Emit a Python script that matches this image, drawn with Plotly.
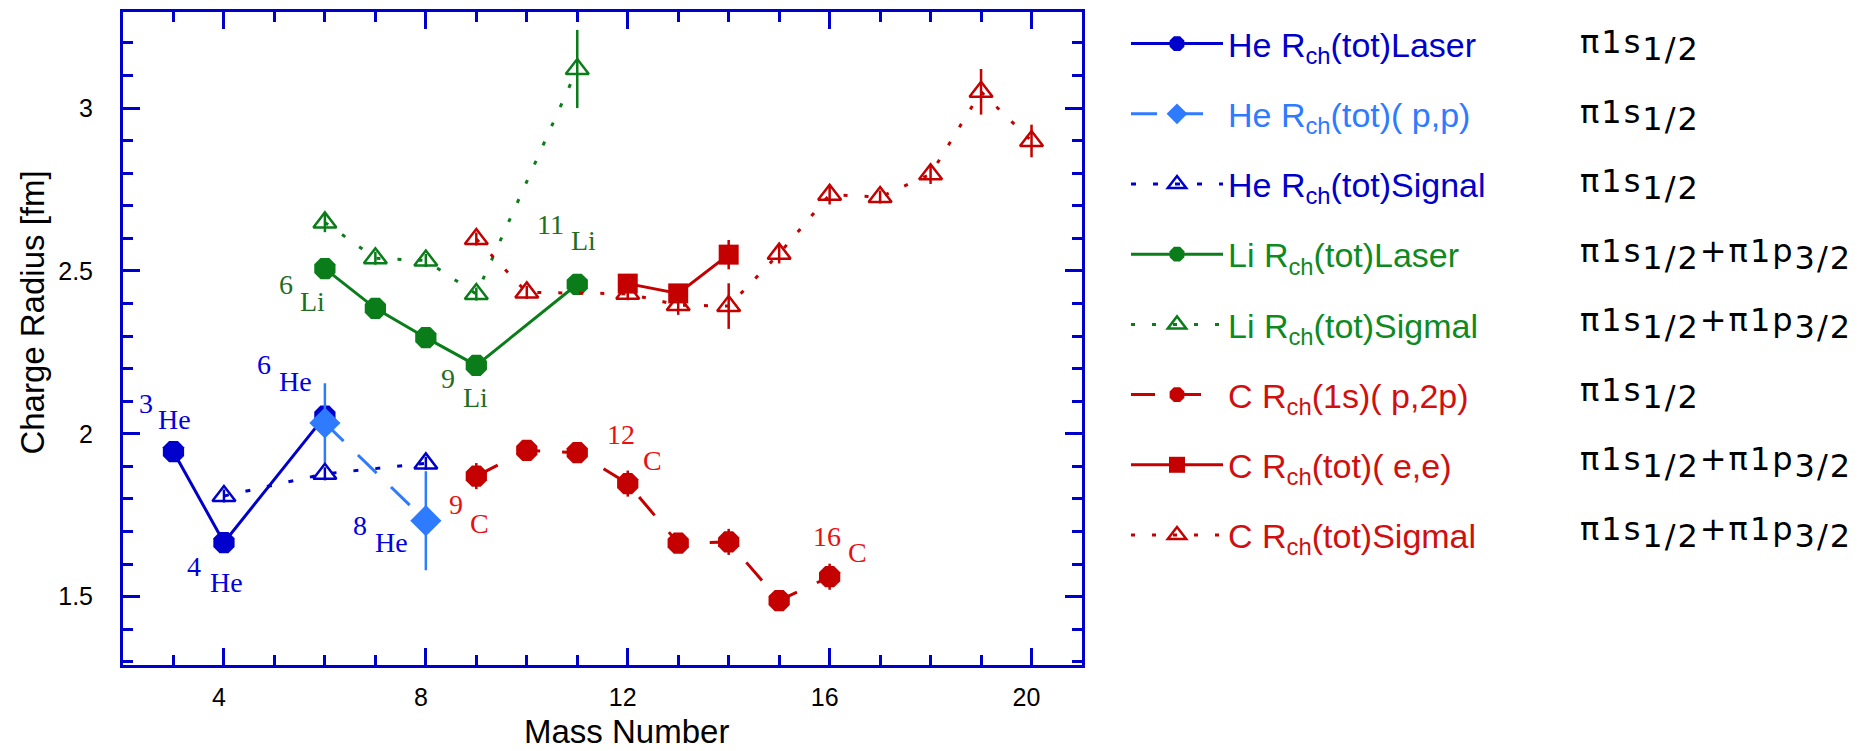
import plotly.graph_objects as go

# ---- data: charge radii (fm) vs mass number ----
he_laser_A = [3, 4, 6]
he_laser_R = [1.945, 1.666, 2.054]

he_pp_A = [6, 8]
he_pp_R = [2.033, 1.733]
he_pp_err = [0.122, 0.152]

he_sig_A = [4, 6, 8]
he_sig_R = [1.809, 1.877, 1.909]
he_sig_err = [0.02, 0.02, 0.02]

li_laser_A = [6, 7, 8, 9, 11]
li_laser_R = [2.507, 2.385, 2.295, 2.210, 2.459]

li_sig_A = [6, 7, 8, 9, 11]
li_sig_R = [2.649, 2.539, 2.532, 2.429, 3.12]
li_sig_err = [0.03, 0.02, 0.02, 0.02, 0.12]

c_p2p_A = [9, 10, 11, 12, 13, 14, 15, 16]
c_p2p_R = [1.870, 1.949, 1.942, 1.847, 1.664, 1.668, 1.488, 1.561]
c_p2p_err = [0.04, 0, 0, 0.04, 0, 0.04, 0, 0.04]

c_ee_A = [12, 13, 14]
c_ee_R = [2.461, 2.431, 2.55]
c_ee_err = [0, 0, 0.045]

c_sig_A = [9, 10, 12, 13, 14, 15, 16, 17, 18, 19, 20]
c_sig_R = [2.598, 2.434, 2.43, 2.395, 2.392, 2.553, 2.734, 2.727, 2.797, 3.050, 2.899]
c_sig_err = [0.02, 0.02, 0.02, 0.03, 0.07, 0.03, 0.03, 0.02, 0.03, 0.07, 0.05]

# orbital configuration shown next to each legend entry
configs = [
    "π1s<sub>{1/2}</sub>",
    "π1s<sub>{1/2}</sub>",
    "π1s<sub>{1/2}</sub>",
    "π1s<sub>{1/2}</sub>+π1p<sub>{3/2}</sub>",
    "π1s<sub>{1/2}</sub>+π1p<sub>{3/2}</sub>",
    "π1s<sub>{1/2}</sub>",
    "π1s<sub>{1/2}</sub>+π1p<sub>{3/2}</sub>",
    "π1s<sub>{1/2}</sub>+π1p<sub>{3/2}</sub>",
]

# isotope labels: (mass, element, colour key)
iso_labels = [
    ("3", "He", "he"), ("4", "He", "he"), ("6", "He", "he"), ("8", "He", "he"),
    ("6", "Li", "li"), ("9", "Li", "li"), ("11", "Li", "li"),
    ("9", "C", "c"), ("12", "C", "c"), ("16", "C", "c"),
]
# label placement in data units: (number x, number y, element x, element y)
iso_pos = [
    (2.456, 2.094, 3.030, 2.045),
    (3.407, 1.592, 4.041, 1.543),
    (4.784, 2.212, 5.408, 2.160),
    (6.696, 1.718, 7.310, 1.666),
    (5.230, 2.458, 5.745, 2.406),
    (8.440, 2.170, 8.975, 2.112),
    (10.461, 2.644, 11.115, 2.592),
    (8.598, 1.782, 9.054, 1.724),
    (11.867, 1.999, 12.481, 1.919),
    (15.949, 1.684, 16.543, 1.635),
]

BLUE = "#0000CC"
LIGHT = "#2F7BFF"
GREEN = "#0A7D1A"
RED = "#C40000"
label_colors = {"he": "#0000E0", "li": "#1F6E1F", "c": "#E81010"}
legend_colors = {"he": "#0000CC", "hel": "#2F7BFF", "li": "#0F8A1F", "c": "#D01010"}

SANS = "Liberation Sans, Arial, sans-serif"
SERIF = "Liberation Serif, Times New Roman, serif"


def lname(text, key):
    return '<span style="color:%s">%s</span>' % (legend_colors[key], text)


def err(vals, color):
    return dict(type="data", array=vals, visible=True, color=color,
                thickness=2.5, width=0)


fig = go.Figure()

fig.add_trace(go.Scatter(
    x=he_laser_A, y=he_laser_R, mode="lines+markers",
    name=lname("He R<sub>ch</sub>(tot)Laser", "he"),
    line=dict(color=BLUE, width=3),
    marker=dict(symbol="octagon", size=23, color=BLUE),
    legendgroup="g1", legendrank=1))

fig.add_trace(go.Scatter(
    x=he_pp_A, y=he_pp_R, mode="lines+markers",
    name=lname("He R<sub>ch</sub>(tot)( p,p)", "hel"),
    line=dict(color=LIGHT, width=3, dash="26px,20px"),
    marker=dict(symbol="diamond", size=24, color=LIGHT),
    error_y=err(he_pp_err, LIGHT),
    legendgroup="g2", legendrank=2))

fig.add_trace(go.Scatter(
    x=he_sig_A, y=he_sig_R, mode="lines+markers",
    name=lname("He R<sub>ch</sub>(tot)Signal", "he"),
    line=dict(color=BLUE, width=3, dash="5px,17px"),
    marker=dict(symbol="triangle-up-open", size=20, color=BLUE,
                line=dict(width=2.5, color=BLUE)),
    error_y=err(he_sig_err, BLUE),
    legendgroup="g3", legendrank=3))

fig.add_trace(go.Scatter(
    x=li_laser_A, y=li_laser_R, mode="lines+markers",
    name=lname("Li R<sub>ch</sub>(tot)Laser", "li"),
    line=dict(color=GREEN, width=3),
    marker=dict(symbol="octagon", size=23, color=GREEN),
    legendgroup="g4", legendrank=4))

fig.add_trace(go.Scatter(
    x=li_sig_A, y=li_sig_R, mode="lines+markers",
    name=lname("Li R<sub>ch</sub>(tot)Sigmal", "li"),
    line=dict(color=GREEN, width=3, dash="4px,17px"),
    marker=dict(symbol="triangle-up-open", size=20, color=GREEN,
                line=dict(width=2.5, color=GREEN)),
    error_y=err(li_sig_err, GREEN),
    legendgroup="g5", legendrank=5))

fig.add_trace(go.Scatter(
    x=c_p2p_A, y=c_p2p_R, mode="lines+markers",
    name=lname("C R<sub>ch</sub>(1s)( p,2p)", "c"),
    line=dict(color=RED, width=3, dash="24px,22px"),
    marker=dict(symbol="octagon", size=23, color=RED),
    error_y=err(c_p2p_err, RED),
    legendgroup="g6", legendrank=6))

fig.add_trace(go.Scatter(
    x=c_sig_A, y=c_sig_R, mode="lines+markers",
    name=lname("C R<sub>ch</sub>(tot)Sigmal", "c"),
    line=dict(color=RED, width=3, dash="4px,17px"),
    marker=dict(symbol="triangle-up-open", size=20, color=RED,
                line=dict(width=2.5, color=RED)),
    error_y=err(c_sig_err, RED),
    legendgroup="g8", legendrank=8))

fig.add_trace(go.Scatter(
    x=c_ee_A, y=c_ee_R, mode="lines+markers",
    name=lname("C R<sub>ch</sub>(tot)( e,e)", "c"),
    line=dict(color=RED, width=3),
    marker=dict(symbol="square", size=20, color=RED),
    error_y=err(c_ee_err, RED),
    legendgroup="g7", legendrank=7))

annotations = []
for (num, el, key), (nx, ny, ex, ey) in zip(iso_labels, iso_pos):
    col = label_colors[key]
    annotations.append(dict(x=nx, y=ny, xref="x", yref="y", text=num,
                            showarrow=False, font=dict(family=SERIF, size=28, color=col)))
    annotations.append(dict(x=ex, y=ey, xref="x", yref="y", text=el,
                            showarrow=False, font=dict(family=SERIF, size=28, color=col)))

# configuration column beside the legend
for i, cfg in enumerate(configs):
    txt = cfg.replace("{", '<span style="font-size:32px">').replace("}", "</span>")
    txt = '<span style="letter-spacing:2px">' + txt + "</span>"
    y_px = 43 + 69.8 * i
    annotations.append(dict(
        x=(1578 - 123) / 959, y=(665 - y_px) / 656, xref="paper", yref="paper",
        xanchor="left", yanchor="middle", text=txt, showarrow=False,
        font=dict(family="DejaVu Sans, sans-serif", size=32, color="black")))

# axis titles
annotations.append(dict(x=0.5255, y=(665 - 732) / 656, xref="paper", yref="paper",
                        xanchor="center", yanchor="middle",
                        text="Mass Number", showarrow=False,
                        font=dict(family=SANS, size=33, color="black")))
annotations.append(dict(x=(33 - 123) / 959, y=(665 - 311) / 656, xref="paper", yref="paper",
                        xanchor="center", yanchor="middle",
                        text="Charge Radius [fm]", textangle=-90, showarrow=False,
                        font=dict(family=SANS, size=33, color="black")))

axis_common = dict(
    showline=True, linecolor=BLUE, linewidth=3, mirror="ticks",
    ticks="inside", ticklen=17, tickwidth=2.5, tickcolor=BLUE,
    showgrid=False, zeroline=False,
    tickfont=dict(family=SANS, size=25, color="black"),
)

fig.update_layout(
    width=1872, height=751, autosize=False,
    margin=dict(l=123, r=790, t=9, b=86),
    paper_bgcolor="white", plot_bgcolor="white",
    xaxis=dict(range=[2, 21], tick0=0, dtick=4,
               minor=dict(dtick=1, tick0=0, ticks="inside", ticklen=10,
                          tickwidth=2.5, tickcolor=BLUE, showgrid=False),
               ticklabelshift=-5, ticklabelstandoff=8,
               **axis_common),
    yaxis=dict(range=[1.29, 3.295], tick0=0, dtick=0.5,
               minor=dict(dtick=0.1, tick0=0, ticks="inside", ticklen=10,
                          tickwidth=2.5, tickcolor=BLUE, showgrid=False),
               ticklabelstandoff=22,
               **axis_common),
    showlegend=True,
    legend=dict(x=(1126 - 123) / 959, y=(665 - 12) / 656, xref="paper", yref="paper",
                xanchor="left", yanchor="top", bgcolor="rgba(0,0,0,0)",
                font=dict(family=SANS, size=34), itemwidth=92,
                tracegroupgap=23, traceorder="grouped"),
    annotations=annotations,
)

fig.write_html("out.html")
